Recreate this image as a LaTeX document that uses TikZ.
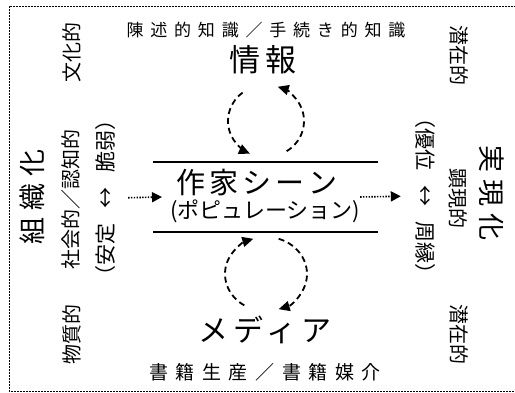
\documentclass[tikz,border=0pt]{standalone}
\usepackage{fontspec}
\setmainfont{Noto Sans CJK JP}
\usetikzlibrary{arrows.meta}

\newcommand{\gap}{\hspace{15pt}}

\begin{document}
\begin{tikzpicture}[x=1pt, y=1pt,
		lab/.style={inner sep=0pt, font=\fontsize{#1}{#1}\selectfont},
		wide/.style 2 args={inner sep=0pt, font=\fontsize{#1}{#1}\selectfont\addfontfeatures{LetterSpace=#2}},
		rotl/.style={rotate=90}, rotr/.style={rotate=-90},
		cyc/.style={dash pattern=on 6pt off 4pt, line width=1.8pt, -{Triangle[length=11pt,width=10pt]}},
		flow/.style={dash pattern=on 1.4pt off 1.4pt, line width=1.6pt, -{Triangle[length=10pt,width=10pt]}},
		rule/.style={line width=1.3pt},
		frame/.style={dash pattern=on 2pt off 1pt, line width=0.7pt}]
			\useasboundingbox (0,0) rectangle (515,393);
			\draw[frame] (516,387) -- (9,387) -- (9,2) -- (516,2);
			\coordinate (loopA) at (266,272);
			\coordinate (loopB) at (266,119);
			\coordinate (inl) at (162,196);
			\coordinate (inr) at (402,196);
			% middle column
			\node (know) at (266,363) [wide={17}{40}] {陳述的知識／手続き的知識};
			\node (info) at (263,333) [wide={31}{15}] {情報};
			\node (scene) at (257,210) [lab=29] {作\kern4pt 家\kern4pt シ\kern4pt ー\kern4pt ン};
			\node (popu) at (265,182) [lab=22] {(ポピュレーション)};
			\node (media) at (265,63) [wide={30}{17}] {メディア};
			\node (book) at (265,21) [wide={19}{40}] {書籍生産／書籍媒介};
			\draw[rule] (153,231) -- (378,231);
			\draw[rule] (153,161) -- (378,161);
			% left column
			\node (org) at (32,196) [wide={27}{25}, rotl] {組織化};
			\node (social) at (71,193) [lab=20, rotl] {社会的／認知的};
			\node (culture) at (72,340) [lab=20, rotl] {文化的};
			\node (matter) at (72,58) [lab=20, rotl] {物質的};
			\node (stab) at (106,195) [lab=21, rotl] {（安定\gap↔\gap 脆弱）};
			% right column
			\node (latentA) at (459,337) [lab=20, rotr] {潜在的};
			\node (latentB) at (459,58) [lab=20, rotr] {潜在的};
			\node (domin) at (425,197) [lab=21, rotr] {（優位\gap↔\gap 周縁）};
			\node (manif) at (458,194) [lab=20, rotr] {顕現的};
			\node (real) at (492,200) [wide={27}{25}, rotr] {実現化};
			% loops
			\draw[cyc] ([shift={(128:38 and 36)}]loopA) arc[start angle=128, end angle=245, x radius=38, y radius=36];
			\draw[cyc] ([shift={(-57:38 and 36)}]loopA) arc[start angle=-57, end angle=72, x radius=38, y radius=36];
			\draw[cyc] ([shift={(238:41 and 37)}]loopB) arc[start angle=238, end angle=108, x radius=41, y radius=37];
			\draw[cyc] ([shift={(72:41 and 37)}]loopB) arc[start angle=72, end angle=-72, x radius=41, y radius=37];
			\draw[flow, shorten <=12pt] (stab.south) -- (inl);
			\draw[flow, shorten >=14pt] (inr -| popu.east) -- (domin.south);
		\end{tikzpicture}
\end{document}
